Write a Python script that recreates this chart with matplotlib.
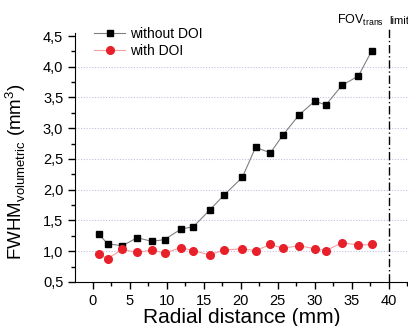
import matplotlib
matplotlib.use("Agg")
import matplotlib.pyplot as plt
from matplotlib.ticker import MultipleLocator, FuncFormatter

plt.rcParams["font.family"] = ["Liberation Sans", "DejaVu Sans"]

# radial distance (mm)
dist = [0.8, 2.0, 4.0, 6.0, 8.0, 9.7, 11.9, 13.6, 15.8, 17.7,
        20.2, 22.0, 24.0, 25.7, 27.9, 30.0, 31.5, 33.7, 35.9, 37.7]
without_doi = [1.28, 1.12, 1.09, 1.22, 1.16, 1.19, 1.36, 1.40, 1.67, 1.91,
               2.20, 2.69, 2.60, 2.89, 3.22, 3.44, 3.38, 3.70, 3.85, 4.26]
with_doi = [0.95, 0.88, 1.03, 0.98, 1.02, 0.97, 1.06, 1.01, 0.94, 1.02,
            1.04, 1.01, 1.11, 1.05, 1.09, 1.04, 1.01, 1.14, 1.10, 1.11]
fov_limit = 40

fig = plt.figure(figsize=(4.08, 3.26), dpi=100)
ax = fig.add_axes([0.184, 0.135, 0.816, 0.764])

ax.plot(dist, without_doi, color="#808080", lw=0.8, marker="s", ms=5,
        mfc="black", mec="black", label="without DOI")
ax.plot(dist, with_doi, color="#f4a0a0", lw=0.8, marker="o", ms=5.5,
        mfc="#e8202a", mec="#e8202a", label="with DOI")

ax.axvline(fov_limit, color="black", lw=1.0, ls=(0, (6, 2, 1, 2)), ymax=1.02, clip_on=False)
ax.text(fov_limit - 0.6, 4.75, "FOV$_{\\mathregular{trans}}$", ha="right", va="center", fontsize=9)
ax.text(fov_limit + 0.05, 4.75, "limit", ha="left", va="center", fontsize=8)

ax.set_xlim(-2.4, 42.6)
ax.set_ylim(0.5, 4.55)
ax.xaxis.set_major_locator(MultipleLocator(5))
ax.xaxis.set_minor_locator(MultipleLocator(2.5))
ax.yaxis.set_major_locator(MultipleLocator(0.5))
ax.yaxis.set_minor_locator(MultipleLocator(0.25))
ax.yaxis.set_major_formatter(FuncFormatter(lambda v, p: f"{v:.1f}".replace(".", ",")))
ax.tick_params(which="major", direction="out", length=5, width=1, labelsize=10.5)
ax.tick_params(which="minor", direction="out", length=3, width=1)

for y in [1.0, 1.5, 2.0, 2.5, 3.0, 3.5, 4.0]:
    ax.axhline(y, color="#c0c0e0", lw=0.8, ls=(0, (1, 1.5)), zorder=0)

ax.spines["top"].set_visible(False)
ax.spines["right"].set_visible(False)

ax.set_xlabel("Radial distance (mm)", fontsize=15, labelpad=0)
ax.set_ylabel("FWHM$_{\\mathregular{volumetric}}$ (mm$^{\\mathregular{3}}$)", fontsize=13.5)
ax.yaxis.set_label_coords(-0.14, 0.445)

ax.legend(loc="upper left", bbox_to_anchor=(0.02, 1.075), frameon=False, fontsize=10,
          handlelength=2.2, handletextpad=0.4, labelspacing=0.2)

fig.savefig("out.png", dpi=100)
